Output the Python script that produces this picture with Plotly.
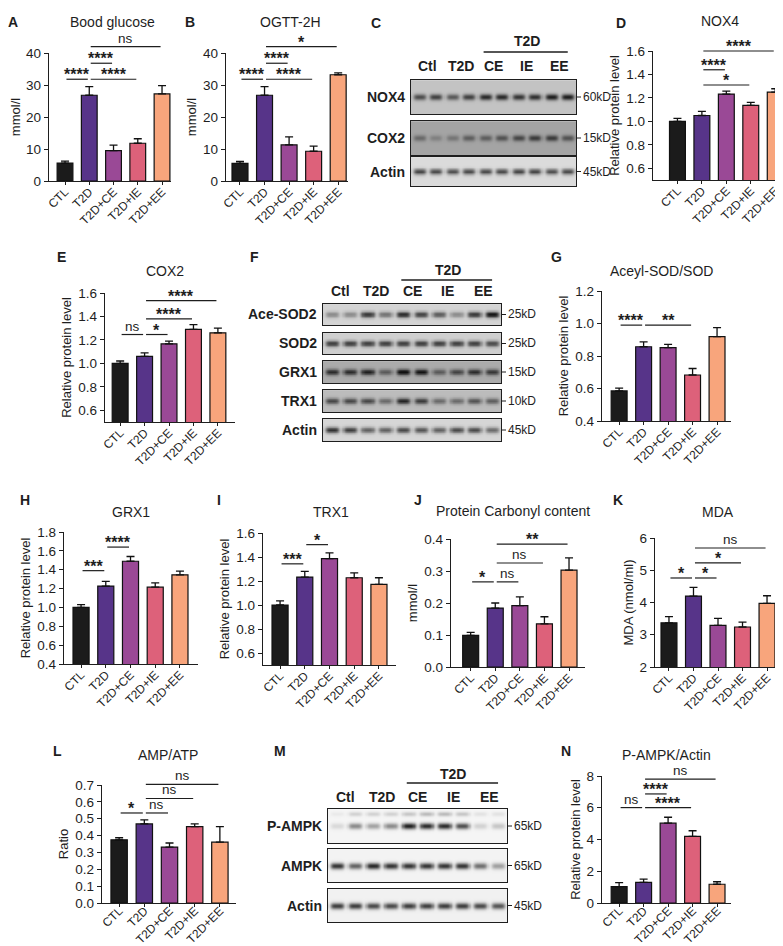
import numpy as np
import plotly.graph_objects as go

W, H = 783, 946
FONT = "Liberation Sans, Arial, sans-serif"
INK = "#1e1e1e"

groups = ["CTL", "T2D", "T2D+CE", "T2D+IE", "T2D+EE"]
bar_colors = ["#1b1b1b", "#573489", "#9a4996", "#dd617a", "#f8a57c"]

# bar values (mean, upper error)
glucose = [5.6, 26.8, 9.5, 11.8, 27.2]
glucose_err = [0.6, 2.7, 1.7, 1.4, 2.6]
ogtt = [5.5, 26.8, 11.3, 9.3, 33.2]
ogtt_err = [0.6, 2.7, 2.5, 1.6, 0.6]
nox4 = [1.0, 1.05, 1.233, 1.137, 1.25]
nox4_err = [0.025, 0.035, 0.025, 0.025, 0.028]
cox2 = [1.0, 1.06, 1.167, 1.29, 1.26]
cox2_err = [0.02, 0.03, 0.022, 0.04, 0.04]
acsod = [0.585, 0.857, 0.851, 0.683, 0.919]
acsod_err = [0.017, 0.03, 0.02, 0.04, 0.055]
grx1 = [1.0, 1.226, 1.49, 1.215, 1.346]
grx1_err = [0.03, 0.05, 0.05, 0.045, 0.04]
trx1 = [1.0, 1.233, 1.387, 1.227, 1.172]
trx1_err = [0.035, 0.047, 0.047, 0.04, 0.055]
carbonyl = [0.099, 0.184, 0.192, 0.135, 0.303]
carbonyl_err = [0.009, 0.016, 0.027, 0.022, 0.038]
mda = [3.37, 4.2, 3.29, 3.24, 3.97]
mda_err = [0.19, 0.27, 0.22, 0.15, 0.24]
amp_atp = [0.375, 0.469, 0.332, 0.453, 0.361]
amp_atp_err = [0.012, 0.024, 0.024, 0.016, 0.092]
pampk = [1.03, 1.3, 5.03, 4.2, 1.18]
pampk_err = [0.25, 0.2, 0.37, 0.35, 0.16]

# significance brackets: (group i, group j, bracket height, label)
glucose_sig = [(0, 1, 31.8, "****"), (1, 2, 36.8, "****"), (1, 3, 31.8, "****"), (1, 4, 42.0, "ns")]
ogtt_sig = [(0, 1, 31.8, "****"), (1, 2, 36.8, "****"), (1, 3, 31.8, "****"), (1, 4, 42.0, "*")]
nox4_sig = [(1, 2, 1.44, "****"), (1, 3, 1.31, "*"), (1, 4, 1.60, "****")]
cox2_sig = [(0, 1, 1.246, "ns"), (1, 2, 1.246, "*"), (1, 3, 1.38, "****"), (1, 4, 1.535, "****")]
acsod_sig = [(0, 1, 0.99, "****"), (1, 3, 0.99, "**")]
grx1_sig = [(0, 1, 1.39, "***"), (1, 2, 1.64, "****")]
trx1_sig = [(0, 1, 1.343, "***"), (1, 2, 1.503, "*")]
carbonyl_sig = [(0, 1, 0.266, "*"), (1, 2, 0.266, "ns"), (1, 3, 0.325, "ns"), (1, 4, 0.384, "**")]
mda_sig = [(0, 1, 4.76, "*"), (1, 2, 4.76, "*"), (1, 3, 5.23, "*"), (1, 4, 5.69, "ns")]
amp_atp_sig = [(0, 1, 0.534, "*"), (1, 2, 0.534, "ns"), (1, 3, 0.62, "ns"), (1, 4, 0.704, "ns")]
pampk_sig = [(0, 1, 6.01, "ns"), (1, 2, 6.87, "****"), (1, 3, 6.01, "****"), (1, 4, 7.8, "ns")]

# western blot lanes and band darkness per lane (2 lanes per group)
lane_groups = ["Ctl", "T2D", "CE", "IE", "EE"]
nox4_bands = [0.5, 0.55, 0.45, 0.55, 0.65, 0.65, 0.6, 0.62, 0.7, 0.7]
cox2_bands = [0.25, 0.15, 0.2, 0.3, 0.3, 0.35, 0.4, 0.45, 0.45, 0.35]
actin_c_bands = [0.62, 0.6, 0.58, 0.6, 0.6, 0.6, 0.62, 0.62, 0.58, 0.6]
acsod2_bands = [0.3, 0.3, 0.65, 0.4, 0.7, 0.6, 0.5, 0.3, 0.65, 0.8]
sod2_bands = [0.6, 0.6, 0.6, 0.6, 0.6, 0.6, 0.6, 0.6, 0.6, 0.55]
grx1_bands = [0.55, 0.55, 0.6, 0.35, 0.7, 0.65, 0.35, 0.45, 0.55, 0.5]
trx1_bands = [0.5, 0.5, 0.5, 0.35, 0.65, 0.55, 0.35, 0.35, 0.45, 0.4]
actin_f_bands = [0.7, 0.65, 0.5, 0.5, 0.6, 0.55, 0.5, 0.6, 0.6, 0.45]
pampk_bands = [0.12, 0.45, 0.35, 0.45, 0.9, 0.85, 0.85, 0.7, 0.15, 0.2]
pampk_upper = [0.05, 0.15, 0.15, 0.15, 0.2, 0.25, 0.25, 0.2, 0.08, 0.08]
ampk_bands = [0.8, 0.6, 0.85, 0.8, 0.8, 0.8, 0.8, 0.8, 0.55, 0.35]
actin_m_bands = [0.75, 0.75, 0.7, 0.7, 0.75, 0.75, 0.75, 0.75, 0.7, 0.65]

bar_panels = [
    ("A", "Bood glucose", "mmol/l", glucose, glucose_err, glucose_sig, [0, 40], [0, 10, 20, 30, 40], "d"),
    ("B", "OGTT-2H", "mmol/l", ogtt, ogtt_err, ogtt_sig, [0, 40], [0, 10, 20, 30, 40], "d"),
    ("D", "NOX4", "Relative protein level", nox4, nox4_err, nox4_sig, [0.5, 1.6], [0.6, 0.8, 1.0, 1.2, 1.4, 1.6], ".1f"),
    ("E", "COX2", "Relative protein level", cox2, cox2_err, cox2_sig, [0.5, 1.6], [0.6, 0.8, 1.0, 1.2, 1.4, 1.6], ".1f"),
    ("G", "Aceyl-SOD/SOD", "Relative protein level", acsod, acsod_err, acsod_sig, [0.4, 1.2], [0.4, 0.6, 0.8, 1.0, 1.2], ".1f"),
    ("H", "GRX1", "Relative protein level", grx1, grx1_err, grx1_sig, [0.4, 1.8], [0.4, 0.6, 0.8, 1.0, 1.2, 1.4, 1.6, 1.8], ".1f"),
    ("I", "TRX1", "Relative protein level", trx1, trx1_err, trx1_sig, [0.5, 1.6], [0.6, 0.8, 1.0, 1.2, 1.4, 1.6], ".1f"),
    ("J", "Protein Carbonyl content", "mmol/l", carbonyl, carbonyl_err, carbonyl_sig, [0, 0.4], [0, 0.1, 0.2, 0.3, 0.4], ".1f"),
    ("K", "MDA", "MDA (nmol/ml)", mda, mda_err, mda_sig, [2, 6], [2, 3, 4, 5, 6], "d"),
    ("L", "AMP/ATP", "Ratio", amp_atp, amp_atp_err, amp_atp_sig, [0, 0.7], [0, 0.1, 0.2, 0.3, 0.4, 0.5, 0.6, 0.7], ".1f"),
    ("N", "P-AMPK/Actin", "Relative protein level", pampk, pampk_err, pampk_sig, [0, 8], [0, 2, 4, 6, 8], "d"),
]

# page placement in pixels: plot box (left, right, top, bottom), category range, letter, title,
# and how far the slanted category labels are pulled towards the axis
placement = {
    "A": dict(box=(41, 163, 45, 173), xr=(-0.66, 4.37), letter=(5, 14), title=(104, 14), pull=-5),
    "B": dict(box=(218, 340, 45, 173), xr=(-0.57, 4.4), letter=(182, 14), title=(282, 14), pull=-5),
    "D": dict(box=(645, 777, 43, 172), xr=(-1.0, 4.4), letter=(613, 15), title=(712, 13), pull=-5),
    "E": dict(box=(97, 227, 285, 414), xr=(-0.62, 4.7), letter=(53, 249), title=(157, 263), pull=-5),
    "G": dict(box=(594, 723, 283, 413), xr=(-0.7, 4.57), letter=(548, 249), title=(653, 263), pull=-5),
    "H": dict(box=(56, 190, 524, 656), xr=(-0.69, 4.73), letter=(17, 492), title=(123, 504), pull=-5),
    "I": dict(box=(255, 388, 525, 657), xr=(-0.69, 4.69), letter=(211, 492), title=(323, 504), pull=-5),
    "J": dict(box=(443, 577, 531, 659), xr=(-0.8, 4.65), letter=(410, 492), title=(505, 503), pull=-5),
    "K": dict(box=(647, 773, 530, 659), xr=(-0.57, 4.57), letter=(610, 492), title=(710, 504), pull=-5),
    "L": dict(box=(94, 228, 777, 895), xr=(-0.68, 4.64), letter=(49, 743), title=(160, 747), pull=-8),
    "N": dict(box=(594, 723, 768, 895), xr=(-0.7, 4.57), letter=(558, 743), title=(658, 747), pull=-8),
}

blots = [
    ("C", [("NOX4", nox4_bands, 0.25, "60kD"), ("COX2", cox2_bands, 0.38, "15kD"),
           ("Actin", actin_c_bands, 0.15, "45kD")]),
    ("F", [("Ace-SOD2", acsod2_bands, 0.18, "25kD"), ("SOD2", sod2_bands, 0.2, "25kD"),
           ("GRX1", grx1_bands, 0.35, "15kD"), ("TRX1", trx1_bands, 0.28, "10kD"),
           ("Actin", actin_f_bands, 0.17, "45kD")]),
    ("M", [("P-AMPK", pampk_bands, 0.04, "65kD"), ("AMPK", ampk_bands, 0.05, "65kD"),
           ("Actin", actin_m_bands, 0.06, "45kD")]),
]
blot_place = {
    "C": dict(x=(403, 568), rows=[(72, 106), (113, 147), (149, 178)], lanes_y=58, header_y=33, line_y=44, letter=(368, 15)),
    "F": dict(x=(315, 493), rows=[(296, 317), (325, 346), (353, 375), (382, 404), (411, 433)],
              lanes_y=283, header_y=262, line_y=272, letter=(247, 249)),
    "M": dict(x=(320, 499), rows=[(801, 835), (841, 874), (881, 914)], lanes_y=789, header_y=766, line_y=775, letter=(272, 743)),
}

fig = go.Figure()
layout = {}
shapes = []
annotations = []


def ax_id(letter, n):
    return letter if n == 1 else f"{letter}{n}"


def text(x, y, s, size=13, bold=False, xanchor="center", yanchor="middle", yshift=0):
    annotations.append(dict(x=x / W, y=1 - y / H, xref="paper", yref="paper",
                            text=f"<b>{s}</b>" if bold else s, showarrow=False,
                            font=dict(size=size, family=FONT, color=INK),
                            xanchor=xanchor, yanchor=yanchor, yshift=yshift))


def hline(xa, xb, y, width=1.2):
    shapes.append(dict(type="line", xref="paper", yref="paper", x0=xa / W, x1=xb / W,
                       y0=1 - y / H, y1=1 - y / H, line=dict(color=INK, width=width)))


n = 0
for key, title, ytitle, vals, errs, sig, yr, yt, fmt in bar_panels:
    n += 1
    p = placement[key]
    x0, x1, top, bot = p["box"]
    xr = p["xr"]
    fig.add_trace(go.Bar(
        x=list(range(5)), y=vals, width=0.65, xaxis=ax_id("x", n), yaxis=ax_id("y", n),
        marker=dict(color=bar_colors, line=dict(color="#111111", width=1.2)),
        error_y=dict(type="data", array=errs, arrayminus=[0] * 5, symmetric=False,
                     color="#111111", thickness=1.3, width=4),
        showlegend=False, hoverinfo="skip"))
    layout["xaxis" if n == 1 else f"xaxis{n}"] = dict(
        domain=[x0 / W, x1 / W], anchor=ax_id("y", n), range=list(xr),
        tickvals=list(range(5)), ticktext=groups, tickangle=-45,
        showline=True, linecolor=INK, linewidth=1.4, ticks="outside", ticklen=3,
        tickwidth=1.3, tickcolor=INK, showgrid=False, zeroline=False,
        ticklabelstandoff=p["pull"],
        tickfont=dict(size=12, family=FONT, color=INK))
    layout["yaxis" if n == 1 else f"yaxis{n}"] = dict(
        domain=[1 - bot / H, 1 - top / H], anchor=ax_id("x", n), range=yr,
        tickvals=yt, tickformat=fmt, showline=True, linecolor=INK, linewidth=1.4,
        ticks="outside", ticklen=4, tickwidth=1.3, tickcolor=INK, showgrid=False,
        zeroline=False, tickfont=dict(size=13.5, family=FONT, color=INK),
        title=dict(text=ytitle, standoff=3, font=dict(size=13, family=FONT, color=INK)))
    text(*p["letter"], key, size=14, bold=True)
    text(*p["title"], title, size=14)
    for i, j, h, label in sig:
        xa = x0 + (i + 0.06 - xr[0]) / (xr[1] - xr[0]) * (x1 - x0)
        xb = x0 + (j - 0.06 - xr[0]) / (xr[1] - xr[0]) * (x1 - x0)
        yy = bot - (h - yr[0]) / (yr[1] - yr[0]) * (bot - top)
        hline(xa, xb, yy)
        if label == "ns":
            text((xa + xb) / 2, yy, label, size=13.5, yanchor="bottom", yshift=-1)
        else:
            text((xa + xb) / 2, yy, label, size=16, bold=True, yanchor="bottom", yshift=-6)

# western blots as heatmaps, one row per axis
xs = np.linspace(0.03, 9.97, 160)
ys = np.linspace(0.02, 0.98, 34)
gray = [[0, "#ffffff"], [1, "#101010"]]
for key, rows in blots:
    bp = blot_place[key]
    bx0, bx1 = bp["x"]
    lane_w = (bx1 - bx0) / 10
    for r, (name, levels, bg, kd) in enumerate(rows):
        n += 1
        top, bot = bp["rows"][r]
        sy = 3.0 / (bot - top)
        z = np.full((len(ys), len(xs)), bg)
        gy = np.exp(-((ys - 0.5) / sy) ** 2)
        for k, d in enumerate(levels):
            gx = np.exp(-((xs - (k + 0.5)) / 0.4) ** 4)
            z += d * np.outer(gy, gx)
        if name == "P-AMPK":
            gy2 = np.exp(-((ys - 0.85) / (2.2 / (bot - top))) ** 2)
            for k, d in enumerate(pampk_upper):
                gx = np.exp(-((xs - (k + 0.5)) / 0.4) ** 4)
                z += d * np.outer(gy2, gx)
        fig.add_trace(go.Heatmap(x=xs, y=ys, z=np.clip(z, 0, 1), zmin=0, zmax=1,
                                 colorscale=gray, showscale=False, zsmooth="best",
                                 hoverinfo="skip", xaxis=ax_id("x", n), yaxis=ax_id("y", n)))
        layout[f"xaxis{n}"] = dict(domain=[bx0 / W, bx1 / W], anchor=ax_id("y", n), range=[0, 10],
                                   showline=True, mirror=True, linecolor=INK, linewidth=1.2,
                                   showticklabels=False, ticks="", showgrid=False, zeroline=False)
        layout[f"yaxis{n}"] = dict(domain=[1 - bot / H, 1 - top / H], anchor=ax_id("x", n), range=[0, 1],
                                   showline=True, mirror=True, linecolor=INK, linewidth=1.2,
                                   showticklabels=False, ticks="", showgrid=False, zeroline=False)
        mid = (top + bot) / 2
        text(bx0 - 4, mid, name, size=14, bold=True, xanchor="right")
        hline(bx1, bx1 + 5, mid, width=1)
        text(bx1 + 5, mid, kd, size=12, xanchor="left")
    for g, lab in enumerate(lane_groups):
        text(bx0 + (2 * g + 1) * lane_w, bp["lanes_y"], lab, size=14, bold=True)
    text(bx0 + 7 * lane_w, bp["header_y"], "T2D", size=14, bold=True)
    hline(bx0 + 4.4 * lane_w, bx0 + 9.5 * lane_w, bp["line_y"], width=1.3)
    text(*bp["letter"], key, size=14, bold=True)

fig.update_layout(
    width=W, height=H, margin=dict(l=0, r=0, t=0, b=0, autoexpand=False),
    paper_bgcolor="white", plot_bgcolor="white",
    font=dict(family=FONT, color=INK), bargap=0.3,
    shapes=shapes, annotations=annotations, **layout)

fig.write_html("out.html")
